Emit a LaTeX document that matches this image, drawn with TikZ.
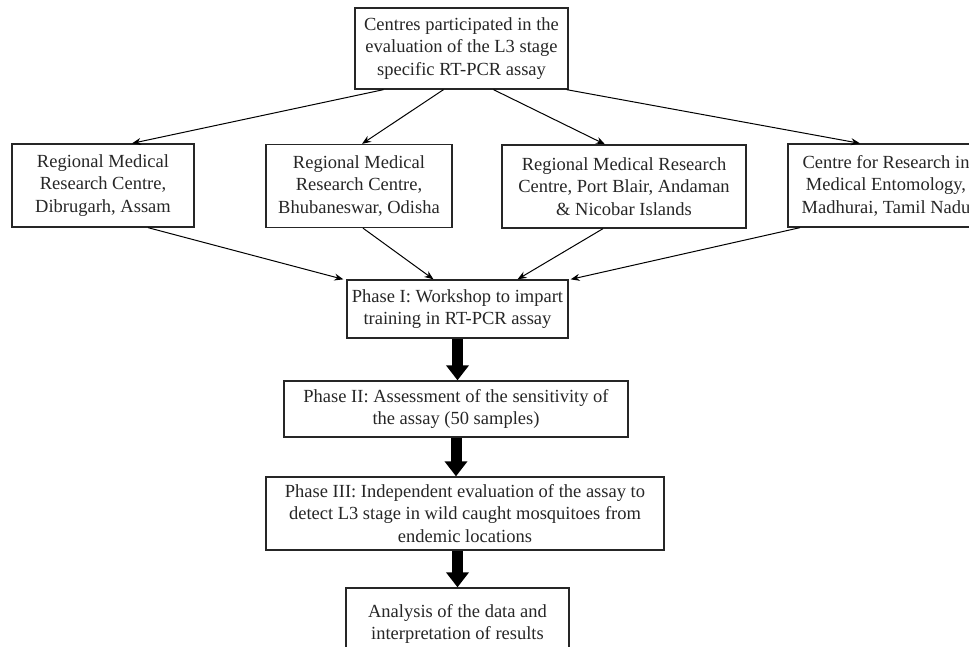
\documentclass[tikz,border=0pt]{standalone}
\usepackage{fontspec}
\setmainfont{Liberation Serif}
\usetikzlibrary{arrows.meta}

\begin{document}
\begin{tikzpicture}[x=1pt,y=-1pt,line join=miter,
  box/.style={draw=black!85,line width=1.3pt,align=center,inner sep=0pt,
    font=\fontsize{18.5}{22.5}\selectfont,text=black!85},
  link/.style={line width=1pt,-{Stealth[length=9pt,width=7pt]}},
  bigarrow/.style={line width=11pt,-{Triangle[length=15pt,width=22pt]}}]

\useasboundingbox (0,0) rectangle (969,647);

% source box
\node[box,minimum width=213pt,minimum height=81pt] (centres) at (461.5,48.5)
  {Centres participated in the\\evaluation of the L3 stage\\specific RT-PCR assay};

% the four centres
\node[box,minimum width=182pt,minimum height=83pt] (dibrugarh) at (103,185.5)
  {Regional Medical\\Research Centre,\\Dibrugarh, Assam};
\node[box,minimum width=186pt,minimum height=83pt] (bhubaneswar) at (359,186)
  {Regional Medical\\Research Centre,\\Bhubaneswar, Odisha};
\node[box,minimum width=244pt,minimum height=83pt] (portblair) at (624,186.5)
  {Regional Medical Research\\Centre, Port Blair, Andaman\\\& Nicobar Islands};
\node[box,minimum width=196pt,minimum height=83pt] (madhurai) at (886,185.5)
  {Centre for Research in\\Medical Entomology,\\Madhurai, Tamil Nadu};

% phases
\node[box,minimum width=221pt,minimum height=58pt] (phaseI) at (457.5,309)
  {Phase I: Workshop to impart\\training in RT-PCR assay};
\node[box,minimum width=344pt,minimum height=56pt] (phaseII) at (456,409)
  {Phase II: Assessment of the sensitivity of\\the assay (50 samples)};
\node[box,minimum width=398pt,minimum height=73pt] (phaseIII) at (465,513.5)
  {Phase III: Independent evaluation of the assay to\\detect L3 stage in wild caught mosquitoes from\\endemic locations};
\node[box,minimum width=223pt,minimum height=72pt] (analysis) at (457.5,624)
  {Analysis of the data and\\interpretation of results};

% fan out
\draw[link] ([xshift=-78pt]centres.south) -- ([xshift=29pt]dibrugarh.north);
\draw[link] ([xshift=-18pt]centres.south) -- ([xshift=3pt]bhubaneswar.north);
\draw[link] ([xshift=32pt]centres.south) -- ([xshift=-19pt]portblair.north);
\draw[link] ([xshift=-2pt]centres.south east) -- ([xshift=-26pt]madhurai.north);

% fan in
\draw[link] ([xshift=45pt]dibrugarh.south) -- ([xshift=-3pt]phaseI.north west);
\draw[link] ([xshift=4pt]bhubaneswar.south) -- ([xshift=-24pt]phaseI.north);
\draw[link] ([xshift=-21pt]portblair.south) -- ([xshift=60pt]phaseI.north);
\draw[link] ([xshift=-86pt]madhurai.south) -- ([xshift=2pt]phaseI.north east);

% phase arrows
\draw[bigarrow] (phaseI.south) -- (phaseI.south |- phaseII.north);
\draw[bigarrow] (phaseII.south) -- (phaseII.south |- phaseIII.north);
\draw[bigarrow] (phaseI.south |- phaseIII.south) -- (phaseI.south |- analysis.north);

\end{tikzpicture}
\end{document}
